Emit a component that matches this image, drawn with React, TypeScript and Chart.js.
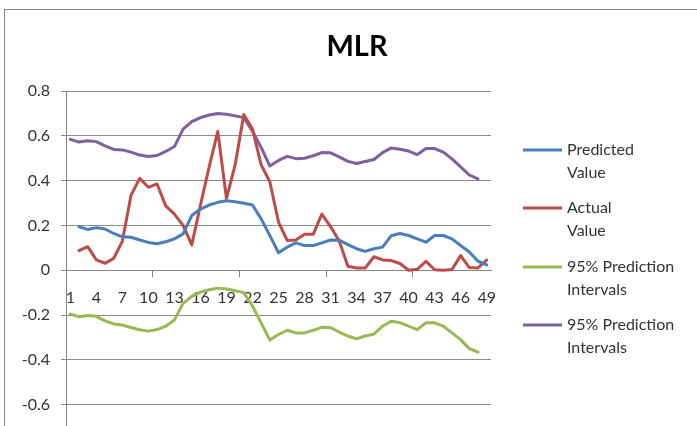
import React, { useEffect, useRef } from "react";
import { Chart, registerables } from "chart.js";

Chart.register(...registerables);

const categories: string[] = Array.from({ length: 49 }, (_, i) => String(i + 1));

// Predicted value, categories 2..49
const predicted: number[] = [0.194, 0.182, 0.19, 0.184, 0.164, 0.149, 0.147, 0.135, 0.124, 0.118, 0.127, 0.14, 0.162, 0.244, 0.273, 0.291, 0.303, 0.31, 0.306, 0.299, 0.291, 0.229, 0.155, 0.078, 0.103, 0.122, 0.11, 0.11, 0.122, 0.135, 0.134, 0.114, 0.096, 0.084, 0.096, 0.103, 0.154, 0.164, 0.155, 0.14, 0.125, 0.155, 0.155, 0.14, 0.11, 0.081, 0.04, 0.024];
// Actual value, categories 2..49
const actual: number[] = [0.087, 0.105, 0.046, 0.031, 0.053, 0.13, 0.335, 0.41, 0.37, 0.385, 0.287, 0.25, 0.2, 0.113, 0.29, 0.46, 0.62, 0.32, 0.47, 0.695, 0.63, 0.47, 0.395, 0.215, 0.133, 0.135, 0.16, 0.16, 0.25, 0.195, 0.13, 0.018, 0.01, 0.01, 0.06, 0.046, 0.043, 0.03, 0, 0.004, 0.04, 0.002, 0, 0.003, 0.065, 0.012, 0.01, 0.045];
// Lower 95% prediction interval, categories 1..48
const lowerPI: number[] = [-0.196, -0.208, -0.202, -0.206, -0.226, -0.24, -0.245, -0.256, -0.266, -0.272, -0.265, -0.25, -0.222, -0.148, -0.117, -0.098, -0.087, -0.08, -0.084, -0.092, -0.1, -0.16, -0.235, -0.312, -0.287, -0.268, -0.28, -0.28, -0.268, -0.255, -0.256, -0.276, -0.294, -0.306, -0.294, -0.285, -0.25, -0.228, -0.234, -0.25, -0.265, -0.235, -0.235, -0.25, -0.28, -0.31, -0.35, -0.366];
// Upper 95% prediction interval, categories 1..48
const upperPI: number[] = [0.584, 0.572, 0.578, 0.574, 0.555, 0.539, 0.537, 0.527, 0.514, 0.508, 0.512, 0.53, 0.552, 0.63, 0.663, 0.681, 0.693, 0.7, 0.696, 0.689, 0.681, 0.62, 0.548, 0.465, 0.49, 0.508, 0.498, 0.5, 0.511, 0.525, 0.524, 0.506, 0.486, 0.476, 0.485, 0.494, 0.525, 0.546, 0.54, 0.532, 0.516, 0.543, 0.543, 0.527, 0.497, 0.461, 0.425, 0.408];

const seriesNames: string[][] = [
  ["Predicted", "Value"],
  ["Actual", "Value"],
  ["95% Prediction", "Intervals"],
  ["95% Prediction", "Intervals"],
];
const seriesColors: string[] = ["#4A7EBB", "#BE4B48", "#98B954", "#7D60A0"];
const chartTitle = "MLR";

const FONT = "Lato, 'Liberation Sans', sans-serif";

const overlayPlugin = {
  id: "overlay",
  afterDraw(chart: any) {
    const ctx = chart.ctx as CanvasRenderingContext2D;
    ctx.save();
    // title
    ctx.fillStyle = "#000";
    ctx.font = `bold 29px ${FONT}`;
    ctx.textAlign = "center";
    ctx.textBaseline = "middle";
    ctx.fillText(chartTitle, 357, 47);
    // legend
    const ys = [150, 208, 267, 325];
    ctx.font = `16px ${FONT}`;
    ctx.textAlign = "left";
    seriesNames.forEach((lines, i) => {
      const y = ys[i];
      ctx.strokeStyle = seriesColors[i];
      ctx.lineWidth = 3;
      ctx.beginPath();
      ctx.moveTo(523, y);
      ctx.lineTo(562, y);
      ctx.stroke();
      ctx.fillStyle = "#333";
      lines.forEach((t, j) => ctx.fillText(t, 567, y + j * 23));
    });
    ctx.restore();
  },
};

export default function App() {
  const ref = useRef<HTMLCanvasElement | null>(null);
  useEffect(() => {
    if (!ref.current) return;
    const pad = (arr: number[], before: number, after: number) => [
      ...Array(before).fill(null),
      ...arr,
      ...Array(after).fill(null),
    ];
    const mk = (label: string, data: (number | null)[], color: string) => ({
      label,
      data,
      borderColor: color,
      backgroundColor: color,
      borderWidth: 3,
      pointRadius: 0,
      tension: 0,
      borderJoinStyle: "round" as const,
      borderCapStyle: "round" as const,
      spanGaps: false,
    });
    const chart = new Chart(ref.current, {
      type: "line",
      data: {
        labels: categories,
        datasets: [
          mk("Predicted Value", pad(predicted, 1, 0), seriesColors[0]),
          mk("Actual Value", pad(actual, 1, 0), seriesColors[1]),
          mk("95% Prediction Intervals", pad(lowerPI, 0, 1), seriesColors[2]),
          mk("95% Prediction Intervals", pad(upperPI, 0, 1), seriesColors[3]),
        ],
      },
      options: {
        responsive: false,
        animation: false,
        devicePixelRatio: 1,
        layout: { padding: { left: 16, right: 206, top: 91, bottom: 19 } },
        plugins: {
          legend: { display: false },
          title: { display: false },
          tooltip: { enabled: false },
        },
        scales: {
          x: {
            type: "category",
            offset: true,
            position: { y: 0 } as any,
            grid: {
              offset: true,
              drawOnChartArea: false,
              drawTicks: true,
              tickLength: 6,
              tickColor: (c: any) =>
                c.index > 0 && c.index % 10 === 0 && c.index < 49 ? "#868686" : "rgba(0,0,0,0)",
            },
            border: { color: "#868686", width: 1 },
            ticks: {
              autoSkip: false,
              maxRotation: 0,
              minRotation: 0,
              padding: 12,
              color: "#333",
              font: { family: FONT, size: 16 },
              callback: (_v: any, i: number) => (i % 3 === 0 ? categories[i] : ""),
            },
          },
          y: {
            min: -0.8,
            max: 0.8,
            afterFit: (s: any) => {
              s.width = 50;
            },
            grid: { color: "#8C8C8C", tickLength: 5, drawTicks: true, tickColor: "#8C8C8C" },
            border: { color: "#868686", width: 1 },
            ticks: {
              stepSize: 0.2,
              padding: 11,
              color: "#333",
              font: { family: FONT, size: 16 },
              callback: (v: any) => String(Math.round(Number(v) * 10) / 10),
            },
          },
        },
      },
      plugins: [overlayPlugin],
    });
    return () => chart.destroy();
  }, []);

  return (
    <div
      style={{
        position: "fixed",
        left: 0,
        top: 0,
        width: 697,
        height: 426,
        overflow: "hidden",
        background: "#fff",
      }}
    >
      <div
        style={{
          position: "absolute",
          left: 4,
          top: 9,
          width: 720,
          height: 480,
          border: "1px solid #888",
          boxSizing: "border-box",
        }}
      />
      <canvas
        ref={ref}
        width={697}
        height={470}
        style={{ position: "absolute", left: 0, top: 0, width: 697, height: 470 }}
      />
    </div>
  );
}
